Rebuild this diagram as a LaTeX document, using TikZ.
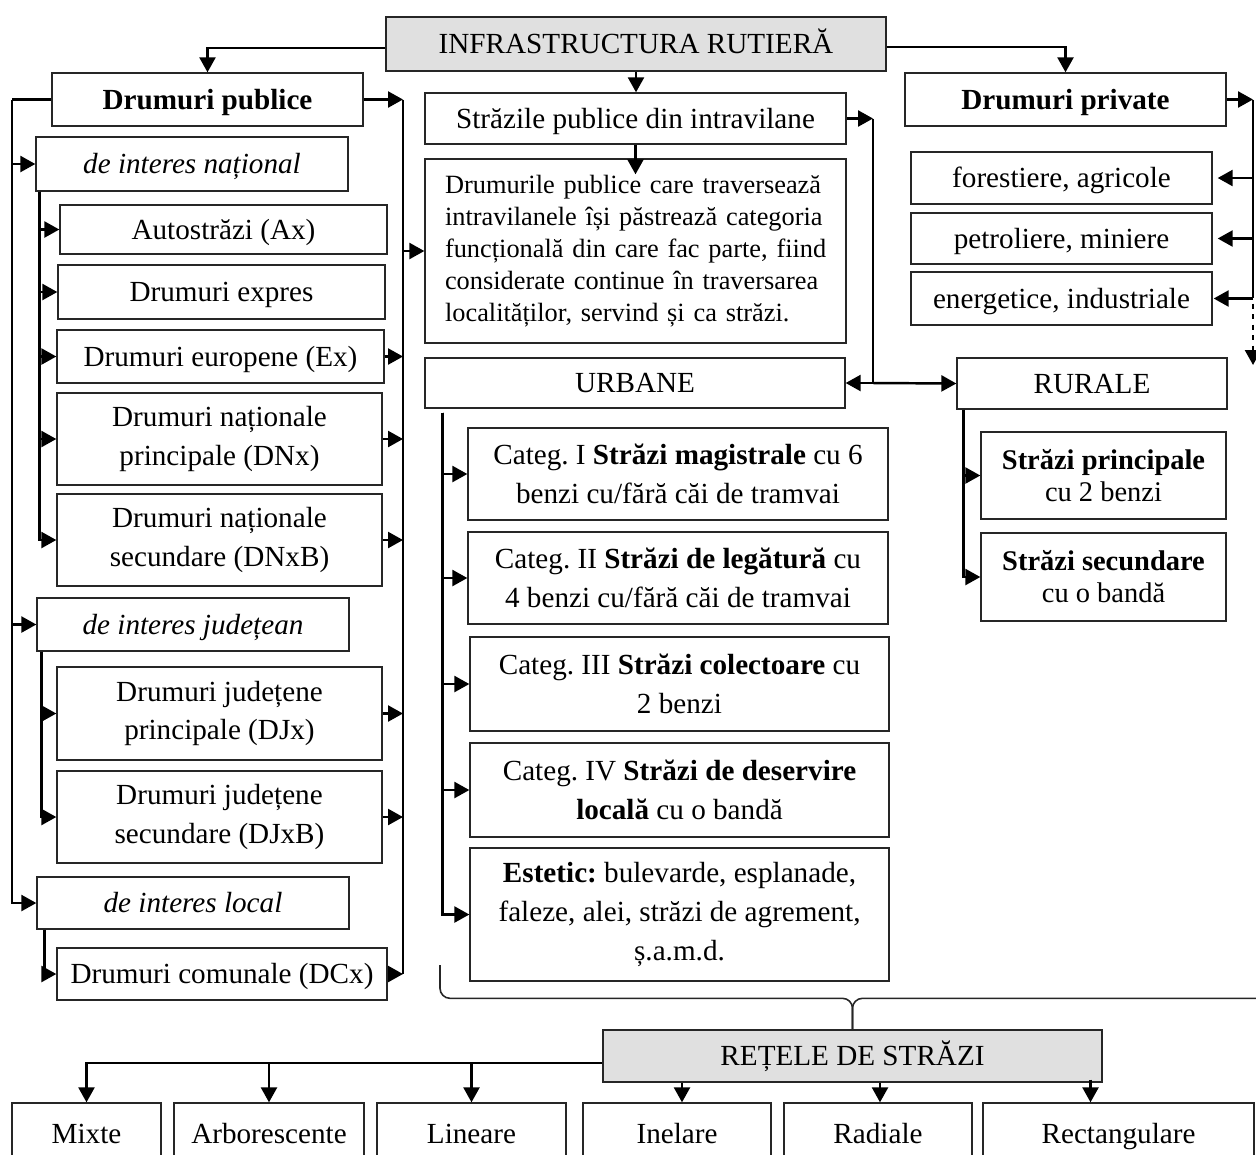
\documentclass[tikz,border=0pt]{standalone}
\usepackage{fontspec}
\setmainfont{Liberation Serif}
\usepackage{tikz}
\usetikzlibrary{arrows.meta, calc}
\frenchspacing

\tikzstyle{box} = [rectangle, draw=black!85, line width=0.8pt, text centered, align=center,
	inner sep=2pt, font=\fontsize{16.6}{22}\selectfont]
\tikzstyle{one} = [text height=13pt, text depth=2pt]
\tikzstyle{headbox} = [box, one, fill=black!12]
\tikzstyle{tight} = [font=\fontsize{16.2}{18.2}\selectfont]
\tikzstyle{arrow} = [-{Triangle[length=0.3cm, width=0.32cm]}, line width=1.4pt]
\tikzstyle{trunk} = [line width=1.4pt]
\tikzstyle{bracket} = [line width=0.9pt, draw=black!85, rounded corners=0.2cm]

\newcommand{\fullline}[1]{\makebox[\linewidth][s]{#1}}

\begin{document}
\begin{tikzpicture}[x=0.02cm, y=-0.02cm]
	\useasboundingbox (0,0) rectangle (1256,1154);

	% top box
	\node (infra) [headbox, minimum width=10cm, minimum height=1.08cm] at (636,44) {INFRASTRUCTURA RUTIERĂ};

	% public roads
	\node (publice) [box, one, minimum width=6.22cm, minimum height=1.06cm] at (207.5,99.5) {\textbf{Drumuri publice}};
	\node (national) [box, one, minimum width=6.24cm, minimum height=1.08cm] at (192,164) {\textit{de interes național}};
	\node (autostrazi) [box, one, minimum width=6.54cm, minimum height=0.98cm] at (223.5,229.5) {Autostrăzi (Ax)};
	\node (expres) [box, one, minimum width=6.54cm, minimum height=1.08cm] at (221.5,292) {Drumuri expres};
	\node (europene) [box, one, minimum width=6.54cm, minimum height=1.06cm] at (220.5,356.5) {Drumuri europene (Ex)};
	\node (dnp) [box, minimum width=6.5cm, minimum height=1.84cm] at (219.5,439) {Drumuri naționale\\principale (DNx)};
	\node (dns) [box, minimum width=6.5cm, minimum height=1.84cm] at (219.5,540) {Drumuri naționale\\secundare (DNxB)};
	\node (judetean) [box, one, minimum width=6.24cm, minimum height=1.06cm] at (193,624.5) {\textit{de interes județean}};
	\node (djp) [box, minimum width=6.5cm, minimum height=1.86cm] at (219.5,713.5) {Drumuri județene\\principale (DJx)};
	\node (djs) [box, minimum width=6.5cm, minimum height=1.84cm] at (219.5,817) {Drumuri județene\\secundare (DJxB)};
	\node (local) [box, one, minimum width=6.24cm, minimum height=1.04cm] at (193,903) {\textit{de interes local}};
	\node (comunale) [box, one, minimum width=6.6cm, minimum height=1.04cm] at (222,974) {Drumuri comunale (DCx)};

	% streets inside localities
	\node (strazi) [box, one, minimum width=8.42cm, minimum height=1.02cm] at (635.5,118.5) {Străzile publice din intravilane};
	\node (desc) [box, minimum width=8.42cm, minimum height=3.68cm, text width=7.62cm, align=left,
		font=\fontsize{15}{18.2}\selectfont] at (635.5,251)
		{\fullline{Drumurile publice care traversează}\\
		 \fullline{intravilanele își păstrează categoria}\\
		 \fullline{funcțională din care fac parte, fiind}\\
		 \fullline{considerate continue în traversarea}\\
		 localităților, servind și ca străzi.};
	\node (urbane) [box, one, minimum width=8.4cm, minimum height=1cm] at (635,383) {URBANE};
	\node (categ1) [box, minimum width=8.4cm, minimum height=1.84cm] at (678,474) {Categ. I \textbf{Străzi magistrale} cu 6\\benzi cu/fără căi de tramvai};
	\node (categ2) [box, minimum width=8.4cm, minimum height=1.84cm] at (678,578) {Categ. II \textbf{Străzi de legătură} cu\\4 benzi cu/fără căi de tramvai};
	\node (categ3) [box, minimum width=8.38cm, minimum height=1.88cm] at (679.5,684) {Categ. III \textbf{Străzi colectoare} cu\\2 benzi};
	\node (categ4) [box, minimum width=8.38cm, minimum height=1.88cm] at (679.5,790) {Categ. IV \textbf{Străzi de deservire}\\\textbf{locală} cu o bandă};
	\node (estetic) [box, minimum width=8.38cm, minimum height=2.66cm] at (679.5,914.5) {\textbf{Estetic:} bulevarde, esplanade,\\faleze, alei, străzi de agrement,\\ș.a.m.d.};

	% private roads and rural streets
	\node (private) [box, one, minimum width=6.42cm, minimum height=1.06cm] at (1065.5,99.5) {\textbf{Drumuri private}};
	\node (forest) [box, one, minimum width=6.02cm, minimum height=1.04cm] at (1061.5,178) {forestiere, agricole};
	\node (petrol) [box, one, minimum width=6.02cm, minimum height=1.02cm] at (1061.5,238.5) {petroliere, miniere};
	\node (energ) [box, one, minimum width=6.02cm, minimum height=1.06cm] at (1061.5,298.5) {energetice, industriale};
	\node (rurale) [box, one, minimum width=5.4cm, minimum height=1.02cm] at (1092,383.5) {RURALE};
	\node (sprinc) [box, tight, minimum width=4.9cm, minimum height=1.74cm] at (1103.5,475.5) {\textbf{Străzi principale}\\cu 2 benzi};
	\node (ssec) [box, tight, minimum width=4.9cm, minimum height=1.76cm] at (1103.5,577) {\textbf{Străzi secundare}\\cu o bandă};

	% street networks
	\node (retele) [headbox, minimum width=9.98cm, minimum height=1.04cm] at (852.5,1056) {REȚELE DE STRĂZI};
	\node (mixte) [box, one, minimum width=2.98cm, minimum height=1.24cm] at (86.5,1134) {Mixte};
	\node (arbor) [box, one, minimum width=3.8cm, minimum height=1.24cm] at (269,1134) {Arborescente};
	\node (lineare) [box, one, minimum width=3.78cm, minimum height=1.24cm] at (471.5,1134) {Lineare};
	\node (inelare) [box, one, minimum width=3.76cm, minimum height=1.24cm] at (677,1134) {Inelare};
	\node (radiale) [box, one, minimum width=3.76cm, minimum height=1.24cm] at (878,1134) {Radiale};
	\node (rect) [box, one, minimum width=5.42cm, minimum height=1.24cm] at (1118.5,1134) {Rectangulare};

	% branches of the top box
	\draw [arrow] ($(infra.west)+(0,4)$) -| (publice.north);
	\draw [arrow] ($(infra.east)+(0,3)$) -| (private.north);
	\draw [arrow] (infra.south) -- (infra.south |- strazi.north);
	\draw [arrow] (strazi.south) -- ($(desc.north)+(0,16)$);

	% left trunk of the public roads
	\coordinate (lt) at (12,99.5);
	\draw [trunk] (publice.west) -- (lt);
	\draw [arrow] (lt) |- (national.west);
	\draw [arrow] (lt) |- (judetean.west);
	\draw [arrow] (lt) |- (local.west);

	\coordinate (nt) at ($(national.south west)+(4,0)$);
	\draw [arrow] (nt) |- (autostrazi.west);
	\draw [arrow] (nt) |- (expres.west);
	\draw [arrow] (nt) |- (europene.west);
	\draw [arrow] (nt) |- (dnp.west);
	\draw [arrow] (nt) |- (dns.west);

	\coordinate (jt) at ($(judetean.south west)+(5,0)$);
	\draw [arrow] (jt) |- (djp.west);
	\draw [arrow] (jt) |- (djs.west);

	\coordinate (lc) at ($(local.south west)+(8,0)$);
	\draw [arrow] (lc) |- (comunale.west);

	% right trunk of the public roads
	\coordinate (rt) at (403,99.5);
	\draw [trunk] (rt) -- (comunale.east -| rt);
	\draw [arrow] (publice.east) -- (rt);
	\draw [arrow] (europene.east) -- (europene.east -| rt);
	\draw [arrow] (dnp.east) -- (dnp.east -| rt);
	\draw [arrow] (dns.east) -- (dns.east -| rt);
	\draw [arrow] (djp.east) -- (djp.east -| rt);
	\draw [arrow] (djs.east) -- (djs.east -| rt);
	\draw [arrow] (comunale.east) -- (comunale.east -| rt);
	\draw [arrow] (desc.west -| rt) -- (desc.west);

	% urban and rural streets
	\coordinate (st) at (873,118.5);
	\draw [arrow] (strazi.east) -- (st);
	\draw [trunk] (st) -- (st |- urbane.east);
	\draw [arrow] (st |- urbane.east) -- (urbane.east);
	\draw [arrow] (st |- urbane.east) -- (rurale.west);

	\coordinate (ut) at ($(urbane.south west)+(18,4)$);
	\draw [arrow] (ut) |- (categ1.west);
	\draw [arrow] (ut) |- (categ2.west);
	\draw [arrow] (ut) |- (categ3.west);
	\draw [arrow] (ut) |- (categ4.west);
	\draw [arrow] (ut) |- (estetic.west);

	\coordinate (rr) at ($(rurale.south west)+(7,0)$);
	\draw [arrow] (rr) |- (sprinc.west);
	\draw [arrow] (rr) |- (ssec.west);

	% private roads trunk
	\coordinate (pt) at (1253,99.5);
	\coordinate (pm) at (1253,293);
	\coordinate (pe) at (1253,365);
	\draw [arrow] (private.east) -- (pt);
	\draw [trunk] (pt) -- (pm);
	\draw [arrow, dashed] (pm) -- (pe);
	\draw [arrow, shorten >=0.1cm] (forest.east -| pt) -- (forest.east);
	\draw [arrow, shorten >=0.1cm] (petrol.east -| pt) -- (petrol.east);
	\draw [arrow, shorten >=0.02cm] (energ.east -| pt) -- (energ.east);

	% brace over the networks box
	\coordinate (bl) at (440,965);
	\coordinate (br) at (1266,965);
	\coordinate (bm) at ($(retele.north)+(0,-31)$);
	\draw [bracket] (bl) |- (bm) -- (retele.north);
	\draw [bracket] (br) |- (bm) -- (retele.north);

	% network types
	\coordinate (rl) at ($(retele.west)+(0,7)$);
	\draw [arrow] (rl) -| (mixte.north);
	\draw [arrow] (arbor.north |- rl) -- (arbor.north);
	\draw [arrow] (lineare.north |- rl) -- (lineare.north);
	\draw [arrow] ($(inelare.north |- retele.south)+(5,0)$) -- ($(inelare.north)+(5,0)$);
	\draw [arrow] ($(radiale.north |- retele.south)+(2,0)$) -- ($(radiale.north)+(2,0)$);
	\draw [arrow] ($(rect.north |- retele.south)+(-28,-3)$) -- ($(rect.north)+(-28,0)$);

\end{tikzpicture}
\end{document}
